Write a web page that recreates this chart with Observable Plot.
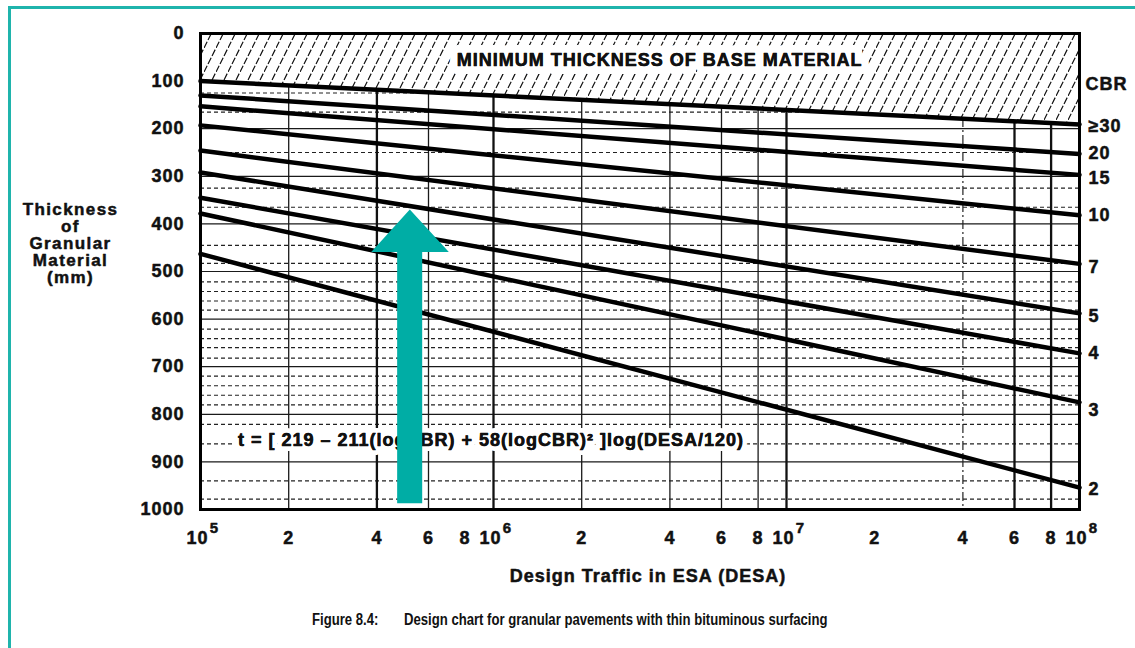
<!DOCTYPE html>
<html><head><meta charset="utf-8">
<script src="https://cdn.jsdelivr.net/npm/d3@7"></script>
<script src="https://cdn.jsdelivr.net/npm/@observablehq/plot@0.6"></script>
<style>
body{margin:0;background:#fff;}
#wrap{position:relative;width:1135px;height:648px;overflow:hidden;background:#fff;}
#border{position:absolute;left:8px;top:6px;width:1300px;height:800px;border-top:3px solid #1fb4ac;border-left:3px solid #1fb4ac;z-index:5;pointer-events:none;}
#chart{position:absolute;left:0;top:0;}
.cap{position:absolute;top:612px;font:bold 16px "Liberation Sans",Arial,sans-serif;line-height:16px;transform:scaleX(0.82);transform-origin:left center;white-space:nowrap;color:#111;}
</style></head><body>
<div id="wrap"><div id="chart"></div><div id="border"></div>
<figcaption class="cap" style="left:312px">Figure 8.4:</figcaption>
<figcaption class="cap" style="left:404px">Design chart for granular pavements with thin bituminous surfacing</figcaption>
</div>
<script>
// ---- data ----
const cbrClasses = ["≥30", "20", "15", "10", "7", "5", "4", "3", "2"];
const desaEnds = [1e5, 1e8];
const thicknessAtStart = [100, 130, 153, 193, 246, 292, 345, 378, 463];
const thicknessAtEnd   = [191, 253, 297, 382, 484, 588, 672, 775, 954];
const cbrLabelMm = [195, 252, 305, 382, 492, 594, 672, 792, 958];
const cbrHeaderMm = 107;
const yTicks = [0, 100, 200, 300, 400, 500, 600, 700, 800, 900, 1000];
const solidGridMm = [200, 300, 400, 500, 600, 700, 800, 900];
const dashedGridMm = [125, 165, 250, 325, 365, 445, 483, 522, 542, 562, 581, 621, 641, 660, 682, 720, 740, 760, 780, 821, 862, 940, 978];
const thinGridDesa = [2e5, 6e5, 2e6, 4e6, 6e6, 8e6];
const thickGridDesa = [4e5, 1e6, 1e7, 6e7, 8e7];
const dashDotGridDesa = [4e7];
const minorTickDesa = [2e5, 4e5, 6e5, 8e5, 2e6, 4e6, 6e6, 8e6, 2e7, 4e7, 6e7, 8e7];
const minorTickText = ["2", "4", "6", "8", "2", "4", "6", "8", "2", "4", "6", "8"];
const decadeDesa = [1e5, 1e6, 1e7, 1e8];
const decadeExp = ["5", "6", "7", "8"];
const arrowDesa = [5.18e5, 7.04e5, 5.71e5, 5.71e5, 4.69e5, 4.69e5, 3.825e5];
const arrowMm   = [370, 459, 459, 987, 987, 459, 459];
const bannerText = "MINIMUM THICKNESS OF BASE MATERIAL";
const bannerDesa = 3.69e6, bannerMm = 57;
const formulaText = "t = [ 219 – 211(logCBR) + 58(logCBR)² ]log(DESA/120)";
const formulaDesa = 9.8e5, formulaMm = 855;
const xTitle = "Design Traffic in ESA (DESA)";
const yTitle = "Thickness\nof\nGranular\nMaterial\n(mm)";

// ---- tables built from the arrays ----
const lineRows = cbrClasses.flatMap((c, i) => [
  {cbr: c, desa: desaEnds[0], t: thicknessAtStart[i]},
  {cbr: c, desa: desaEnds[1], t: thicknessAtEnd[i]}
]);
const minRows = lineRows.filter(d => d.cbr === cbrClasses[0]);
const labelRows = cbrClasses.map((c, i) => ({cbr: c, mm: cbrLabelMm[i]}));
const minorRows = minorTickDesa.map((d, i) => ({desa: d, label: minorTickText[i]}));
const decadeRows = decadeDesa.map((d, i) => ({desa: d, exp: decadeExp[i]}));
const arrowRows = arrowDesa.map((d, i) => ({desa: d, mm: arrowMm[i]}));
const bannerRows = [{label: bannerText, desa: bannerDesa, mm: bannerMm}];
const formulaRows = [{label: formulaText, desa: formulaDesa, mm: formulaMm}];

const ink = {fill: "#111", stroke: "#111", strokeWidth: 0.5};

const plot = Plot.plot({
  width: 1135, height: 600,
  marginLeft: 200, marginRight: 56, marginTop: 33, marginBottom: 91,
  x: {type: "log", domain: [1e5, 1e8], axis: null},
  y: {domain: [0, 1000], reverse: true, axis: null},
  style: {fontFamily: "'Liberation Sans', Arial, sans-serif", fontSize: "18px", fontWeight: "bold",
          letterSpacing: "1px", color: "#111", background: "transparent", overflow: "visible"},
  marks: [
    Plot.ruleY(solidGridMm, {stroke: "#1a1a1a", strokeWidth: 1.2}),
    Plot.ruleY(dashedGridMm, {stroke: "#222", strokeWidth: 1.2, strokeDasharray: "4,3"}),
    Plot.ruleX(thinGridDesa, {stroke: "#1a1a1a", strokeWidth: 1.3}),
    Plot.ruleX(thickGridDesa, {stroke: "#111", strokeWidth: 2.3}),
    Plot.ruleX(dashDotGridDesa, {stroke: "#222", strokeWidth: 1.2, strokeDasharray: "9,3,2,3"}),
    Plot.area(minRows, {x1: "desa", y1: d => 0, y2: "t", fill: "white"}),
    Plot.area(minRows, {x1: "desa", y1: d => 0, y2: "t", fill: "url(#hatch)"}),
    Plot.line(lineRows, {x: "desa", y: "t", z: "cbr", stroke: "#000", strokeWidth: 4.5}),
    Plot.text(bannerRows, {x: "desa", y: "mm", text: "label", fill: "#111", stroke: "white", strokeWidth: 16, strokeLinejoin: "round"}),
    Plot.text(bannerRows, {x: "desa", y: "mm", text: "label", ...ink}),
    Plot.text(formulaRows, {x: "desa", y: "mm", text: "label", fill: "#111", stroke: "white", strokeWidth: 10, strokeLinejoin: "round"}),
    Plot.text(formulaRows, {x: "desa", y: "mm", text: "label", ...ink}),
    Plot.line(arrowRows, {x: "desa", y: "mm", fill: "#00ada5", stroke: "none"}),
    Plot.frame({stroke: "#000", strokeWidth: 3}),
    Plot.text(yTicks, {x: d => desaEnds[0], y: d => d, text: d => String(d), textAnchor: "end", dx: -16, ...ink}),
    Plot.text(minorRows, {x: "desa", text: "label", frameAnchor: "bottom", dy: 34, ...ink}),
    Plot.text(decadeRows, {x: "desa", text: d => "10", frameAnchor: "bottom", dy: 34, dx: -3, ...ink}),
    Plot.text(decadeRows, {x: "desa", text: "exp", frameAnchor: "bottom", dy: 23, dx: 14, fontSize: 15, ...ink}),
    Plot.text(labelRows, {x: d => desaEnds[1], y: "mm", text: "cbr", textAnchor: "start", dx: 9, ...ink}),
    Plot.text(["CBR"], {x: d => desaEnds[1], y: d => cbrHeaderMm, text: d => d, textAnchor: "start", dx: 6, ...ink}),
    Plot.text([xTitle], {text: d => d, frameAnchor: "bottom", dx: 8, dy: 72, ...ink}),
    Plot.text([yTitle], {text: d => d, frameAnchor: "left", dx: -130, dy: -28, textAnchor: "middle", lineHeight: 1.0, fontSize: 17, ...ink})
  ]
});

const svg = d3.select(plot);
const pat = svg.insert("defs", ":first-child").append("pattern")
  .attr("id", "hatch").attr("patternUnits", "userSpaceOnUse")
  .attr("width", 12).attr("height", 24);
pat.append("path").attr("d", "M0,24L12,0").attr("stroke", "#111")
  .attr("stroke-width", 1.2).attr("stroke-dasharray", "7,2").attr("fill", "none");
// slightly wider tracking for the stacked y title so it keeps the reference's width at 17px
svg.selectAll("text").filter(function() { return this.textContent.startsWith("Thickness"); })
  .style("letter-spacing", "1.4px");

document.getElementById("chart").appendChild(plot);
</script>
</body></html>
